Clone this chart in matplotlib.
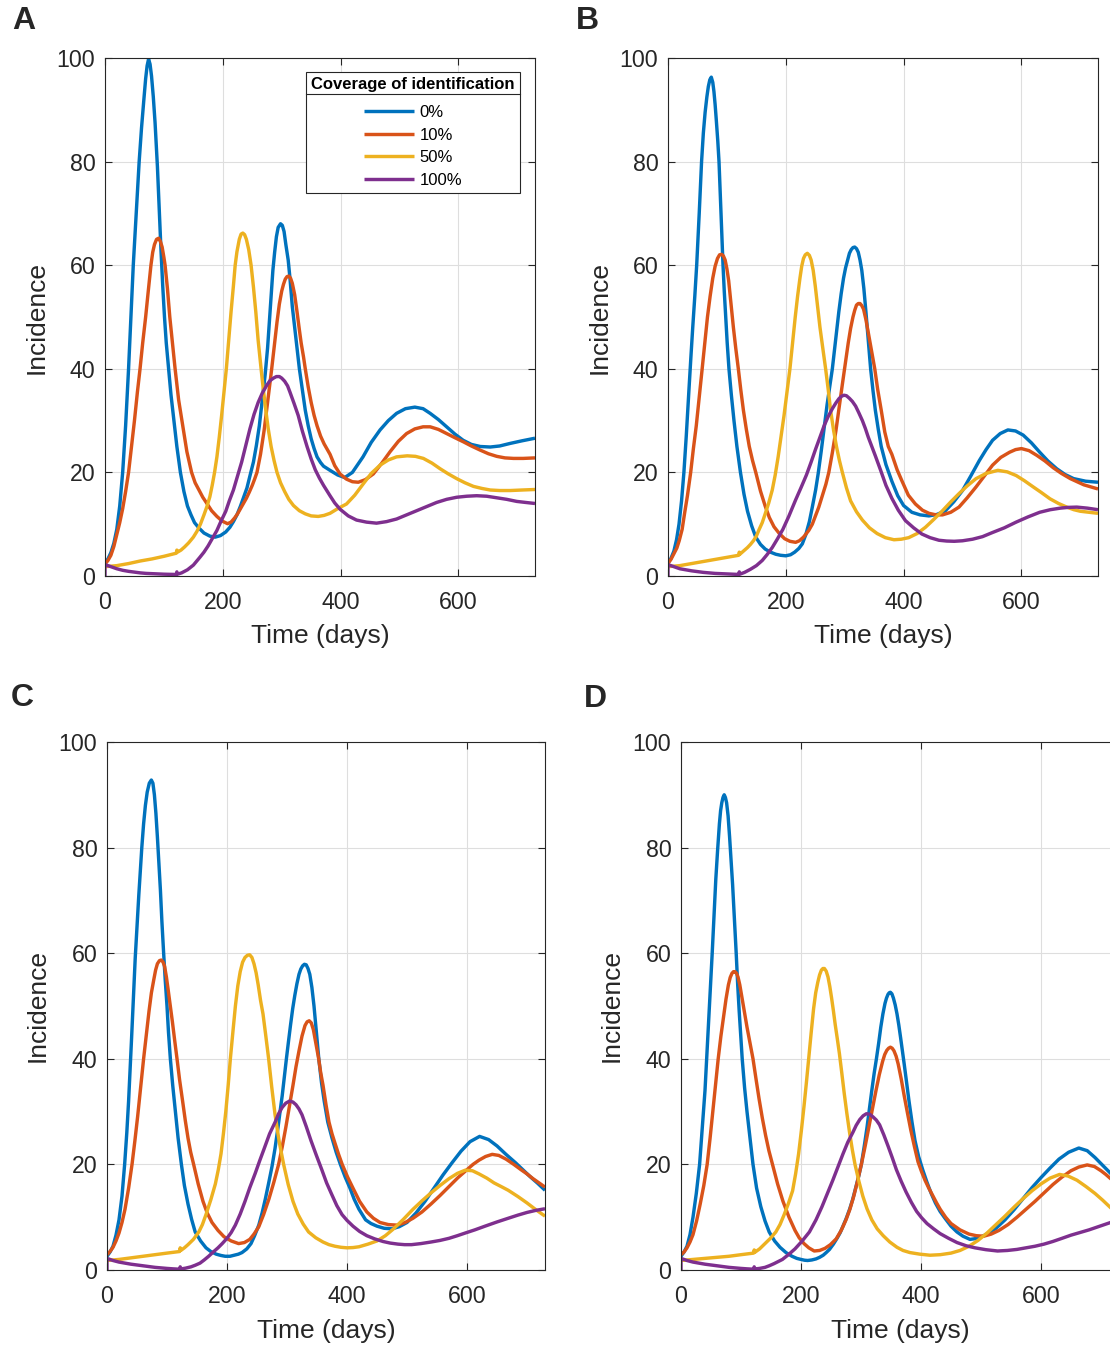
import matplotlib
matplotlib.use("Agg")
import matplotlib.pyplot as plt
from matplotlib.lines import Line2D

plt.rcParams['font.family'] = ['Liberation Sans', 'DejaVu Sans']

# ---------------- data: (time in days, incidence) ----------------
# Panel A
a_blue = [(0,2.6),(5,3.3),(10,4.5),(15,6.3),(20,9),(25,13.5),(30,20),(35,29),(40,40),(44,50),(48,60),(53,70),
          (58,80),(62,86.5),(66,92),(69,96),(71.5,98.5),(74,99.8),(76.5,98.8),(79,96.5),(82,92.5),(85,87.5),
          (89,79),(92,71),(95,63),(98,56),(101,50),(104,45),(108,40),(112,35),(116,31),(122,25),(128,20),
          (134,16.3),(140,13.5),(146,11.8),(152,10.3),(160,9.2),(168,8.3),(178,7.7),(187,7.5),(196,7.8),
          (205,8.5),(212,9.4),(218,10.5),(224,11.8),(230,13.5),(236,15.4),(241,17),(246,19.3),(252,22),
          (257,25.2),(262,29),(267,34),(272,39),(276,44),(279,49),(282,54),(285,59),(288,62.5),(291,65.5),
          (294,67.3),(298,68),(301,67.7),(304,66.5),(307,64),(311,61),(314,57.5),(318,52),(324,46),(330,40),
          (335,36),(340,32),(345,29),(350,26.5),(355,24.6),(360,23),(366,21.9),(371,21.2),(382,20.4),
          (395,19.5),(407,19.0),(420,20),(438,23),(452,25.8),(467,28.2),(481,30),(495,31.4),(510,32.3),
          (526,32.6),(540,32.3),(552,31.4),(566,30.2),(580,28.8),(594,27.4),(608,26.2),(622,25.4),(637,25.0),
          (654,24.9),(670,25.1),(688,25.6),(708,26.1),(730,26.6)]
a_orange = [(0,2.3),(5,3),(10,4),(15,5.7),(20,8),(25,10.3),(30,13),(35,16.3),(40,20),(45,25),(50,30),(55,35.5),
            (59.5,40),(64,45),(69,50),(73,54.5),(78,60),(81,62.5),(84,64),(87.5,65),(91,65.2),(94,64.6),(97,63.5),
            (100,61.5),(102,60),(106,55.5),(110,50),(114.5,45),(119,40),(125,34),(132,29),(139,24),(147,20),
            (153,18),(160,16.5),(166,15.2),(173,14),(181,12.6),(190,11.5),(199,10.6),(208,10.1),(214,10.4),
            (220,11.2),(225,12),(230,13),(235,14),(240,15),(245,16.2),(250,17.5),(254,18.7),(258,20),(264,23.5),
            (270,28),(276,33.5),(283,40),(288,45),(292,49),(296,52.5),(300,55),(303,56.3),(306,57.3),(309,57.8),
            (312,57.9),(315,57.5),(318,56.5),(322,54.3),(326,51),(330,47.5),(333,45),(337,42.3),(340,40),
            (345,36.5),(350,33.5),(355,31),(360,29),(366,27),(372,25.5),(382,23.5),(390,21.3),(399,19.7),
            (410,18.7),(420,18.2),(430,18.1),(442,18.6),(455.5,19.7),(470,21.8),(484,24),(498,26),(512,27.5),
            (526,28.4),(540,28.8),(552,28.8),(566,28.3),(580,27.5),(594,26.7),(608.5,25.9),(622,25.1),(637,24.3),
            (651,23.6),(665,23.1),(679,22.8),(693.5,22.7),(710,22.7),(730,22.8)]
a_yellow = [(0,1.8),(20,2.0),(40,2.4),(60,2.9),(80,3.3),(100,3.8),(121,4.4),(122,5.0),(123,4.6),(129,5.0),
            (135,5.6),(142,6.4),(150,7.5),(156,8.6),(162,10),(168,11.8),(173,13.4),(178,15.3),(182,17.5),(186,20),
            (190,23),(194,26.8),(198,31),(202,35.5),(206,40),(210,45.5),(214,51),(218,56),(221,60),(224,62.6),
            (228,65),(231,66),(234,66.2),(237,65.9),(240,65),(244,63),(248,60),(252,55.8),(256,51),(260,45.5),
            (265,40),(269,35.8),(273,32),(277,28.5),(282,25),(287,22.3),(292,20),(298,18),(305,16.3),(312,14.8),
            (320,13.6),(330,12.6),(340,12),(350,11.6),(362,11.5),(372,11.7),(382,12.1),(395,13),(410,13.9),
            (424,15.6),(438.5,17.8),(452,19.8),(467,21.4),(481,22.4),(495,23),(513,23.2),(527,23.1),(540.5,22.7),
            (555,21.8),(569,20.7),(583,19.7),(597,18.8),(611,18),(625.5,17.3),(640,16.9),(654,16.6),(670,16.5),
            (688,16.5),(708,16.6),(730,16.7)]
a_purple = [(0,0),(0,2.2),(10,1.8),(20,1.4),(30,1.1),(40,0.9),(50,0.75),(60,0.6),(70,0.5),(80,0.45),(90,0.4),
            (100,0.35),(110,0.32),(121,0.3),(122,0.8),(123,0.35),(130,0.6),(140,1.2),(150,2.1),(161,3.6),(168,4.6),
            (175,5.8),(182,7.2),(190,8.8),(197,10.6),(205,12.5),(211,14.5),(218,16.6),(225,19.3),(232,22),
            (239,25.2),(246,28.4),(253,31.2),(260,33.5),(267,35.3),(275,36.9),(280,37.7),(286,38.2),(291,38.5),
            (296,38.5),(300,38.2),(305,37.6),(310,36.7),(314,35.5),(321,33.3),(328,31),(335,28),(343,25),
            (350,22.6),(357,20.5),(364,18.9),(371,17.5),(382,15.5),(390,14.1),(399,12.9),(413,11.6),(427,10.8),
            (444,10.4),(461,10.2),(478,10.5),(495,11),(512,11.8),(529,12.6),(546,13.4),(563,14.2),(580,14.8),
            (597,15.2),(614,15.4),(631,15.5),(648,15.4),(665,15.1),(682,14.8),(699,14.4),(714,14.2),(730,14.0)]

# Panel B
b_blue = [(0,2.6),(5,3.4),(10,4.8),(14.5,7),(18.7,10),(23,14.5),(27,20),(31,27),(35.6,36),(39,42.5),(42,48),
          (45.5,54),(48.7,60),(53,70),(57,80),(60,85.5),(63,89.5),(66,92.5),(68.5,94.5),(71,95.8),(73.5,96.3),
          (76,95.3),(78,93.5),(80,91),(82,88),(84.5,84),(86.6,80),(90,70),(93.4,60),(95.5,55),(98,50),(100.5,45),
          (103.5,40),(107.5,35),(112,30),(117,25),(123,20),(129,15.8),(135,12.5),(142,9.7),(149,7.5),(157,6.1),
          (165,5.2),(174,4.6),(183,4.2),(191,4.0),(200,3.9),(208,4.1),(215,4.6),(222,5.3),(228,6.2),(234,8),
          (240,10.5),(245,13.3),(250.6,16.6),(255,19.8),(260,24),(265,28.5),(270,33),(274.5,36.5),(279,40),
          (284,45),(290,51),(294,54.5),(298,57.5),(301.5,59.5),(305,61),(308,62.3),(311,63),(314,63.4),(317,63.5),
          (320,63.2),(323,62.5),(326,61),(329,59),(332.5,55.5),(336,51),(340,45.5),(344,40),(348,35.8),(352,32),
          (357,28.3),(362,25),(370,21.5),(380,18.3),(390,15.5),(400,13.6),(414,12.3),(428,11.8),(443,11.6),
          (457,11.9),(471,12.6),(485,14.3),(500,16.5),(514,19.3),(528.6,22.3),(540,24.4),(551,26.2),(564,27.5),
          (577,28.2),(590,28),(603,27.2),(617,25.7),(631,23.9),(645,22.2),(660,20.7),(674,19.6),(688.6,18.8),
          (709,18.3),(730,18.1)]
b_orange = [(0,2.4),(5,3.2),(10,4.3),(15,5.4),(19,6.8),(24,9),(28,12),(33,15.5),(38.5,20),(43,24.5),(48,29),
            (53,34.5),(58,40),(62.5,45),(67,50),(71.5,54),(76,57.5),(80,59.8),(84,61.3),(87.5,62),(91,62.1),
            (94,61.8),(97,61),(100,59.3),(103,57),(107,52.5),(111,48),(115,44),(119.4,40),(123.5,36),(128,32),
            (133,28.3),(138,25),(143.5,22.3),(149,20),(157,16.4),(165,13.5),(172,11.3),(180,9.5),(189,8.2),
            (198,7.2),(207,6.7),(216.7,6.5),(223,6.8),(230,7.5),(239,8.8),(245,10),(250,11.5),(256,13.3),
            (262,15.5),(268,17.7),(273,20),(279,23.8),(285,28),(290.5,32.5),(296,37),(301,41),(306,45),(310,47.8),
            (314,50),(317,51.3),(320,52.3),(323,52.6),(326,52.6),(329,52.2),(332,51.5),(336,49.5),(340,47),
            (345.5,43.5),(351,40),(356,36),(362,32),(368,27.8),(374,25),(380,23.5),(389,20.5),(397,18.4),
            (408,15.6),(420,13.9),(432,12.7),(443,12.1),(455,11.8),(466,11.8),(480,12.3),(494,13.3),(508,15.1),
            (523,17.2),(537,19.3),(551,21.4),(565,22.9),(580,23.9),(590,24.4),(600,24.6),(613,24.2),(626,23.3),
            (640,22.2),(654,20.9),(668,19.8),(683,18.8),(706,17.6),(730,16.8)]
b_yellow = [(0,1.8),(20,2.0),(40,2.4),(60,2.8),(80,3.2),(100,3.6),(120,4.0),(121,4.6),(122,4.2),(128,4.8),
            (135,5.5),(140,6.1),(145,6.8),(150,7.7),(154,8.8),(160,10.3),(165,12),(171,14.1),(177,16.6),(182,19.5),
            (187,23),(192,27),(197,31),(202,35.5),(207,40),(211.5,45),(216,50),(220,54),(224,57.5),(227,59.8),
            (230,61.3),(233,62),(236.5,62.3),(240,61.9),(243,61),(246.5,59),(250,56),(254,52),(258,48),(263,43.8),
            (267.6,40),(272,36),(276,32),(281,28.2),(286,25),(291,22.3),(296,20),(303,17),(310,14.5),(320,12.4),
            (330,10.8),(342,9.3),(355,8.2),(369,7.4),(383.6,7.0),(396,7.1),(408.6,7.4),(423,8.2),(437,9.4),
            (451,10.9),(466,12.6),(480,14.3),(494,15.9),(508,17.4),(523,18.8),(540,19.8),(560,20.4),(576,20.1),
            (591,19.4),(605,18.4),(620,17.2),(634,16.1),(648.6,14.9),(663,14),(677,13.3),(689,12.8),(700,12.5),
            (715,12.3),(730,12.1)]
b_purple = [(0,0),(0,2.2),(10,1.8),(20,1.4),(30,1.2),(40,1.0),(50,0.85),(60,0.7),(70,0.6),(80,0.5),(90,0.45),
            (100,0.4),(110,0.35),(120,0.3),(121,0.8),(122,0.35),(130,0.7),(140,1.3),(150,2),(160,3),(168,4.1),
            (177,5.5),(186,7.2),(195,9),(205,11.5),(216.7,14.7),(226,17.1),(235,19.5),(243,22),(250.6,24.5),
            (258,26.8),(265,29),(272,30.8),(279,32.3),(285,33.4),(290,34.2),(294.5,34.7),(298.7,34.9),(303,34.8),
            (308,34.3),(313,33.7),(318.5,32.8),(324,31.5),(330,30),(335,28.5),(340,26.8),(346,25),(352,23.2),
            (361,20.4),(370,17.5),(380,15),(391,12.7),(403,10.7),(417,9.3),(431,8.1),(445,7.4),(460,6.9),
            (473,6.75),(486,6.7),(500,6.8),(517,7.1),(534,7.6),(551,8.4),(571,9.3),(591,10.4),(611,11.4),
            (631,12.3),(649,12.8),(666,13.1),(680,13.25),(694,13.3),(712,13.1),(730,12.8)]

# Panel C
c_blue = [(0,2.6),(5,3.4),(10,4.5),(15,6.6),(20,9.5),(25,14),(29.4,20),(33,26),(36,32),(38.5,38),(41,44),
          (44,51.5),(47,59),(50,65),(53,71),(55.5,75.5),(58,80),(61,84.5),(64,88),(67,90.5),(70.5,92.2),
          (73.9,92.8),(76.5,92.2),(79,90),(81.5,86.5),(84,82),(86.5,77),(89,72),(91.5,66),(94.4,60),(97,55),
          (100,50),(102.5,45),(105.6,40),(109.5,35),(114,30),(118.5,25),(124,20),(129,16),(135,12.5),(141,9.6),
          (147,7.2),(156,5.5),(165,4.2),(173,3.5),(182,3.0),(190,2.75),(197,2.6),(205,2.6),(212,2.8),(219,3.0),
          (225,3.3),(233,4),(240,5),(246,6.5),(253,8.5),(258.5,10.8),(264,13.5),(269.5,16.5),(275,19.6),(280,23),
          (285,27),(289,30.5),(292,33),(295.5,36.5),(299,40),(302.5,43.3),(306,46.5),(309.5,49.5),(313,52),
          (316.5,54.2),(320,56),(323,57),(326,57.6),(329,57.9),(332,57.8),(335,57.1),(338,56),(341.5,53.5),
          (345,50),(349,45),(353,40),(357.5,35.5),(362,32),(368,28),(375,25),(382,22.3),(389,20),(397,17.6),
          (405,15.5),(412,13.4),(420,11.5),(431,9.5),(440,8.8),(450,8.3),(462,7.9),(475,7.8),(487,8.2),(500,9),
          (515,10.8),(530,13),(545,15.5),(560,18),(575,20.3),(590,22.5),(605,24.3),(621,25.3),(636,24.7),
          (650,23.5),(665,21.9),(681,20.3),(693,19),(705,17.7),(718,16.4),(730,15.1)]
c_orange = [(0,2.9),(5,3.5),(10,4.3),(15,5.5),(20,7),(25,9),(30,11.5),(36,15.5),(41.7,20),(46.5,24.5),(51,29),
            (56,34.5),(61,40),(65.5,44.5),(70,49),(74,52.5),(78,55),(81,56.8),(84,58),(87.5,58.6),(90.6,58.7),
            (93.5,58.3),(96,57.5),(99,55.5),(102,53),(105.5,50),(109,47),(113,43.3),(116.7,40),(121,36),(126,32),
            (130.5,28.3),(135,25),(139.5,22.3),(144.4,20),(152,16.3),(160,13),(167,10.8),(175,9),(185,7.5),
            (195,6.3),(207,5.5),(219.4,5.0),(229,5.2),(238,5.8),(245,6.8),(253,8.2),(261,10.5),(270,13.5),
            (278,16.6),(286,20),(292,23.3),(298,27),(304,31),(310,35),(315,38.5),(320,41.5),(325,44.3),(330,46.3),
            (333.5,47),(337,47.2),(340.5,46.8),(344,45.5),(348,43),(352.8,40),(356,37.5),(360,35),(365,31.3),
            (370,28),(375,25.8),(380,24),(386,21.9),(392,20),(401,17.6),(410,15.5),(421,13),(433,11),(444,9.8),
            (455,9),(469,8.6),(483.6,8.5),(497,9),(510,9.8),(525,11),(540,12.5),(555,14.1),(570,15.8),(585,17.5),
            (600,19),(610,20),(620,20.8),(631,21.5),(642,21.9),(653,21.7),(665,21),(678,20),(690,19),(700,18.2),
            (710,17.3),(720,16.5),(730,15.7)]
c_yellow = [(0,1.8),(20,2.0),(40,2.3),(60,2.6),(80,2.9),(100,3.2),(121,3.5),(122,4.2),(123,3.7),(129,4.2),
            (135,4.8),(144,5.8),(153,7.2),(159,8.6),(165,10.5),(173,13.3),(180.6,16.3),(185.5,19),(190,22),
            (194,25.8),(198,30),(202,35),(205.6,40),(210,45.3),(214,50),(218,53.8),(222,56.5),(226,58.3),(230,59.2),
            (234,59.6),(237.8,59.7),(241.5,59.2),(245,58),(248.5,56.3),(252,54),(256,51),(260,48.5),(264.5,44.5),
            (269.4,40),(274.5,34.7),(280,29.5),(287,24.3),(294.4,20),(302,16.2),(310,13),(318,10.6),(327,8.7),
            (336,7.2),(348,6.1),(360,5.3),(370,4.8),(380,4.5),(390,4.3),(400,4.2),(410,4.25),(420,4.4),(435,4.9),
            (450,5.5),(464,6.5),(477.6,7.8),(494,9.6),(510,11.5),(525,13.1),(540,14.6),(555,16),(570,17.3),
            (584,18.3),(597,18.9),(609,18.8),(620,18.2),(633,17.4),(645,16.5),(657,15.8),(668.7,15.1),(685,13.9),
            (700,12.7),(715,11.4),(730,10.2)]
c_purple = [(0,0),(0,2.2),(10,1.8),(20,1.5),(30,1.3),(40,1.1),(50,0.95),(60,0.8),(70,0.65),(80,0.5),(90,0.4),
            (100,0.3),(110,0.22),(121,0.15),(122,0.6),(123,0.2),(131,0.35),(140,0.6),(147,0.9),(155,1.3),(162,1.9),
            (169.4,2.6),(177,3.4),(185,4.2),(192,5),(200,6),(207,7.1),(213.9,8.5),(222,10.6),(230,13),(238,15.6),
            (247,18.3),(254.5,20.7),(262,23),(271,25.8),(280.6,28.1),(286,29.6),(292,30.8),(298,31.6),(304.4,32),
            (310,31.8),(315,31.3),(320,30.5),(325,29.4),(332,27.2),(340,24.5),(349,21.7),(358,19),(366,16.5),
            (375,14.2),(383,12.2),(391.7,10.5),(400,9.4),(410,8.3),(421,7.3),(433,6.5),(446,5.9),(460,5.4),
            (472,5.1),(485,4.9),(496,4.8),(507.5,4.8),(523,5),(540,5.3),(555,5.6),(570,6),(584,6.5),(597,7),
            (613,7.6),(630,8.3),(650,9.1),(668.7,9.8),(685,10.4),(700,10.9),(715,11.3),(730,11.6)]

# Panel D
d_blue = [(0,2.6),(5,3.4),(10,4.5),(15,6.7),(20,10),(25.5,14.5),(31,20),(35.5,27),(40,34),(43,40.5),(46,47),
          (49,53.5),(52,60),(55,67),(58,74),(61,79.5),(64,84.5),(66,87),(68,88.5),(70,89.5),(72,90),(74,89.5),
          (76,88.5),(78.5,86),(81,82),(83.5,77.5),(86,73),(89,66.5),(92,60),(94.5,54),(97,49),(99.5,44.5),
          (102,40),(106,34.5),(110,30),(115,25),(120,20),(126,15.5),(133,12),(140,9.3),(147,7.2),(156,5.5),
          (165,4.3),(175,3.3),(185,2.6),(193,2.2),(200,2.0),(206,1.85),(211,1.8),(218,1.9),(225,2.1),(231,2.4),
          (237,2.8),(242,3.3),(247.5,3.9),(254,4.9),(260,6),(265,7),(270,8.3),(275.5,9.8),(281,11.5),(286,13.3),
          (291,15.5),(296,17.7),(300.6,20),(305.5,23.5),(310,27),(314,30.5),(318,34),(322,37.3),(325.7,40),
          (329.5,43),(333,46),(336.5,48.5),(340,50.5),(342.5,51.5),(345,52.2),(347,52.5),(349,52.6),(351.5,52.3),
          (354,51.5),(357,50.2),(360,48.5),(363,46.4),(366,44),(369,41.5),(372,39),(376,35.5),(380,32),(385,28),
          (390,24.5),(396,21.5),(402.8,19),(410,16.6),(417,14.5),(424,12.7),(431.8,11.1),(440,9.8),(450,8.3),
          (460,7.2),(470,6.4),(481.6,5.8),(495,6),(510,6.8),(525,7.9),(540,9.5),(555,11.4),(570,13.5),(585,15.6),
          (600,17.5),(615,19.3),(630,21),(646,22.3),(663,23.1),(677,22.6),(690,21.3),(703,19.8),(716,18.3),(730,17)]
d_orange = [(0,2.9),(5,3.4),(10,4.2),(15,5.3),(20,6.7),(26,9.3),(32,12.5),(38,16),(43.6,20),(48.5,25),(53,30),
            (57.5,35),(62,40),(66.5,44.3),(71,48),(75,51.3),(79,54),(82,55.4),(85,56.2),(87.5,56.5),(90,56.5),
            (92.5,56.2),(95,55.5),(98,54),(101,52),(105.5,49),(110,46),(115,43),(120,40),(125,36.2),(130,32.5),
            (135.5,28.8),(141,25.5),(146.5,22.6),(152.5,20),(161,16.3),(170,13),(180,10),(190,7.5),(197,6.1),
            (205,5),(213,4.2),(222,3.6),(231,3.7),(240,4.1),(249,4.8),(258.7,5.9),(267,7.5),(275,9.5),(281.5,11.5),
            (288,14),(294.5,17),(300.6,20),(307,23.5),(313,27),(319,30.5),(325,34),(330.5,37),(336,39.5),
            (339.5,40.8),(343,41.6),(346,42),(349,42.2),(352,42),(355,41.5),(358.5,40.5),(362,39),(367,36.2),
            (372,33),(377.5,29.7),(383,26.5),(389,23.4),(395,20.5),(401,18.6),(406.7,17),(413,15.5),(420,14),
            (426,12.7),(432,11.5),(441,10),(450,8.8),(465,7.6),(480,6.8),(492,6.5),(504.6,6.4),(517,6.8),(530,7.5),
            (545,8.6),(560,10),(575,11.5),(590,13),(605,14.6),(620,16.2),(635,17.6),(650,18.8),(663,19.5),
            (677,19.9),(689,19.6),(700,18.8),(708,18.1),(716,17.3),(730,16)]
d_yellow = [(0,1.8),(20,2.0),(40,2.2),(60,2.4),(80,2.6),(100,2.9),(121,3.2),(122,3.8),(123,3.35),(131,4),
            (140,5),(149,6),(158,7.2),(165,8.6),(172,10.5),(179,12.6),(186,15),(191,18.2),(196,22),(200.5,26.3),
            (205,31),(209,35.5),(212.8,40),(217,45),(221,49.5),(224.5,52.5),(228,54.5),(231,55.9),(234,56.8),
            (236.5,57.1),(239,57.1),(242,56.6),(245,55.5),(248,53.7),(251,51.5),(254,49.1),(257,46.5),(260.5,43.8),
            (264,41),(268,37.3),(272,33.5),(276.5,29.6),(281,26),(285.5,22.8),(290,20),(296.5,16.8),(303,14),
            (310,11.6),(318,9.5),(327,7.8),(337,6.5),(348,5.3),(360,4.3),(370,3.7),(381.6,3.3),(398,3),(415,2.8),
            (432,2.9),(450,3.2),(465,3.7),(480,4.5),(495,5.6),(510,7),(525,8.6),(540,10.2),(555,11.9),(570,13.5),
            (585,15),(600,16.3),(615,17.4),(631,18.1),(645,17.8),(660,17),(675,15.8),(690,14.5),(703,13.2),
            (716,11.8),(730,10.8)]
d_purple = [(0,0),(0,2.2),(10,1.8),(20,1.5),(30,1.3),(40,1.1),(50,0.95),(60,0.8),(70,0.65),(80,0.5),(90,0.4),
            (100,0.3),(110,0.22),(121,0.15),(122,0.6),(123,0.2),(131,0.3),(140,0.5),(147,0.8),(155,1.2),(162,1.6),
            (169,2.0),(179,2.9),(190,4),(202,5.5),(214,7.2),(225,9.5),(235,12),(244,14.5),(253,17),(261.5,19.5),
            (270,22),(278,24.2),(286.6,26.1),(292,27.4),(298,28.5),(303.5,29.2),(309,29.6),(314.5,29.5),(320,29),
            (325.5,28.4),(331,27.5),(338,25.6),(345,23.5),(352,21.3),(359,19),(367,16.8),(375,14.8),(384,12.8),
            (392.7,11.1),(401,9.9),(410,8.8),(421,7.8),(431.8,6.9),(446,6),(460,5.2),(475,4.6),(490,4.2),
            (508,3.85),(527.6,3.6),(544,3.7),(560,3.9),(575,4.2),(590,4.5),(605,4.9),(619.7,5.4),(635,6),(650,6.6),
            (665,7.1),(680,7.6),(698,8.3),(716,9.0),(730,9.6)]

coverage_labels = ['0%', '10%', '50%', '100%']
panel_letters = ['A', 'B', 'C', 'D']
x_ticks = [0, 200, 400, 600]
y_ticks = [0, 20, 40, 60, 80, 100]
legend_title = 'Coverage of identification'

panels = [
    [a_blue, a_orange, a_yellow, a_purple],
    [b_blue, b_orange, b_yellow, b_purple],
    [c_blue, c_orange, c_yellow, c_purple],
    [d_blue, d_orange, d_yellow, d_purple],
]

# ---------------- styling / layout ----------------
COLORS = ['#0072BD', '#D95319', '#EDB120', '#7E2F8E']
AX_COLOR = '#262626'
GRID_COLOR = '#dedede'
LW = 2.45
W, H = 1110, 1346
# axes boxes in pixels: (left, top, right, bottom)
BOXES = [(105, 58, 535, 576), (668, 58, 1098, 576), (107, 742, 545, 1270), (681, 742, 1119, 1270)]
LETTER_POS = [(24, 21), (587, 21), (22, 698), (595, 699)]

fig = plt.figure(figsize=(W / 100, H / 100), dpi=100)

axes = []
for i, (x0, y0, x1, y1) in enumerate(BOXES):
    ax = fig.add_axes([x0 / W, 1 - y1 / H, (x1 - x0) / W, (y1 - y0) / H])
    axes.append(ax)
    for series, c, lab in zip(panels[i], COLORS, coverage_labels):
        t = [p[0] for p in series]
        y = [p[1] for p in series]
        ax.plot(t, y, color=c, lw=LW, label=lab, solid_joinstyle='round', solid_capstyle='butt')
    ax.set_xlim(0, 730)
    ax.set_ylim(0, 100)
    ax.set_xticks(x_ticks)
    ax.set_yticks(y_ticks)
    ax.grid(True, color=GRID_COLOR, linewidth=0.8)
    ax.set_axisbelow(True)
    ax.tick_params(direction='in', length=5, width=0.8, top=True, right=True,
                   labelsize=16.7, colors=AX_COLOR)
    ax.tick_params(axis='x', pad=10.5)
    ax.tick_params(axis='y', pad=7)
    for s in ax.spines.values():
        s.set_color(AX_COLOR)
        s.set_linewidth(0.8)
    ax.set_xlabel('Time (days)', fontsize=19, color=AX_COLOR)
    ax.set_ylabel('Incidence', fontsize=19, color=AX_COLOR)
    ax.xaxis.set_label_coords(0.5, -0.092)
    ax.yaxis.set_label_coords(-0.131, 0.5)
    lx, ly = LETTER_POS[i]
    fig.text(lx / W, 1 - ly / H, panel_letters[i], fontsize=23, fontweight='bold',
             color=AX_COLOR, ha='center', va='center')

# legend in panel A
axA = axes[0]
leg = axA.legend(title=legend_title, loc='upper right', bbox_to_anchor=(0.965, 0.973),
                 borderaxespad=0, frameon=True, fancybox=False, framealpha=1,
                 edgecolor=AX_COLOR, fontsize=12, handlelength=3.0, handletextpad=0.3,
                 labelspacing=0.45, borderpad=0.3,
                 title_fontproperties={'weight': 'bold', 'size': 12})
leg.get_frame().set_linewidth(0.8)
leg._legend_box.sep = 9.5          # extra room under the title for the divider
for h in leg.get_lines():
    h.set_linewidth(LW)

# divider line between the legend title and its entries
fig.canvas.draw()
r = fig.canvas.get_renderer()
lb = leg.get_frame().get_window_extent(r)
tb = leg.get_title().get_window_extent(r)
ysep = tb.y0 - 2
fig.add_artist(Line2D([lb.x0 / W, lb.x1 / W], [ysep / H, ysep / H],
                      transform=fig.transFigure, color=AX_COLOR, lw=0.8))

fig.savefig('out.png', dpi=100)
